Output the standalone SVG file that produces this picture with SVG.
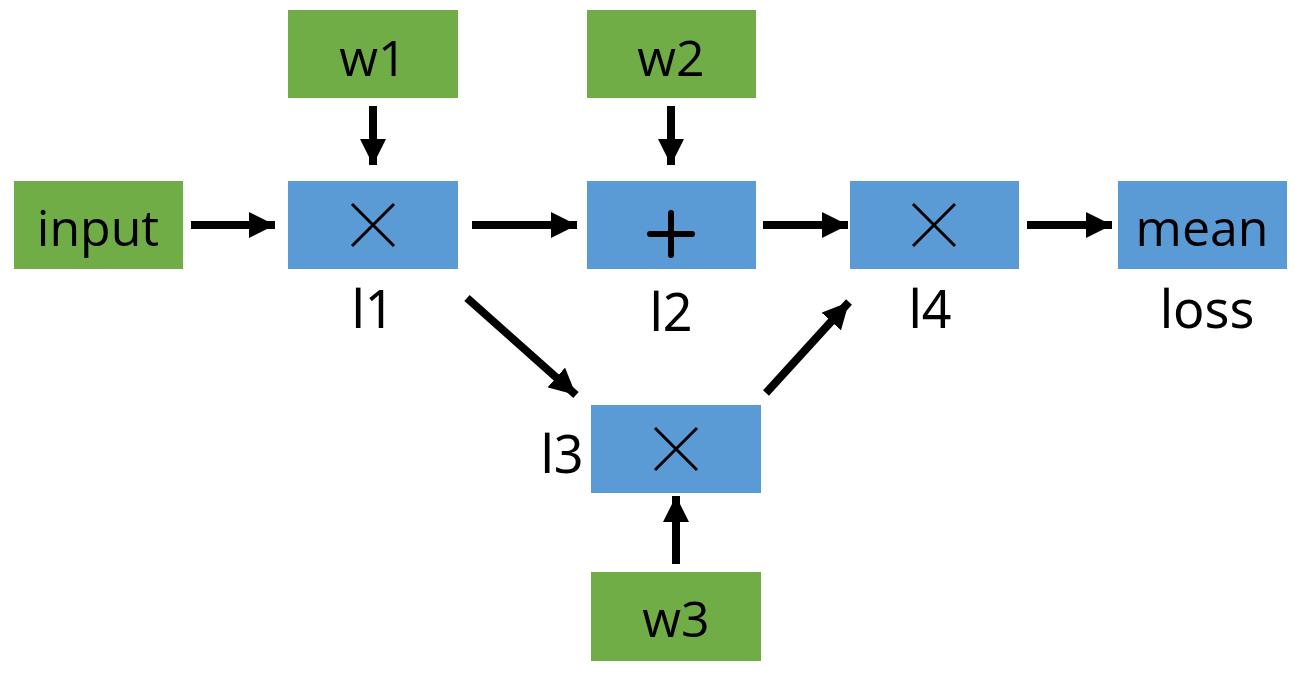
<svg xmlns="http://www.w3.org/2000/svg" width="1304" height="687" viewBox="0 0 1304 687">
<style>
.g{fill:#70AD47}
.b{fill:#5B9BD5}
.t{font-family:"Open Sans","Liberation Sans",sans-serif;font-size:50px;fill:#000;text-anchor:middle}
.lb{font-family:"Noto Sans","Liberation Sans",sans-serif;font-size:52px;fill:#000;text-anchor:middle}
.c{stroke:#000;stroke-width:8;fill:none;marker-end:url(#ah)}
</style>
<defs>
<marker id="ah" viewBox="0 0 10 10" refX="10" refY="5" markerWidth="3.3" markerHeight="3.3" orient="auto" markerUnits="strokeWidth">
<path d="M0,0 L10,5 L0,10 z" fill="#000"/>
</marker>
</defs>
<g id="input"><rect class="g" x="14" y="181" width="169" height="88"/><text class="t" x="98" y="246">input</text></g>
<g id="w1"><rect class="g" x="288" y="10" width="170" height="88"/><text class="t" x="373" y="76">w1</text></g>
<g id="w2"><rect class="g" x="587" y="10" width="169" height="88"/><text class="t" x="671" y="76">w2</text></g>
<g id="w3"><rect class="g" x="591" y="572" width="170" height="89"/><text class="t" x="676" y="637">w3</text></g>
<g id="l1"><rect class="b" x="288" y="181" width="170" height="88"/><path d="M352,204 L394,246 M394,204 L352,246" stroke="#000" stroke-width="3" fill="none"/><text class="lb" x="373" y="328">l1</text></g>
<g id="l2"><rect class="b" x="587" y="181" width="169" height="88"/><path d="M650,234 L692,234 M671,213 L671,255" stroke="#000" stroke-width="6" stroke-linecap="round" fill="none"/><text class="lb" x="671" y="331">l2</text></g>
<g id="l3"><rect class="b" x="591" y="405" width="170" height="88"/><path d="M655,428 L697,470 M697,428 L655,470" stroke="#000" stroke-width="3" fill="none"/><text class="lb" x="562" y="473">l3</text></g>
<g id="l4"><rect class="b" x="850" y="181" width="169" height="88"/><path d="M913,204 L955,246 M955,204 L913,246" stroke="#000" stroke-width="3" fill="none"/><text class="lb" x="930" y="328">l4</text></g>
<g id="mean"><rect class="b" x="1118" y="181" width="169" height="88"/><text class="t" x="1202" y="246">mean</text><text class="lb" x="1207" y="328">loss</text></g>
<g id="connectors">
<line class="c" x1="191" y1="225" x2="275" y2="225"/>
<line class="c" x1="373" y1="106" x2="373" y2="165"/>
<line class="c" x1="472" y1="225" x2="577" y2="225"/>
<line class="c" x1="671" y1="106" x2="671" y2="165"/>
<line class="c" x1="763" y1="225" x2="848" y2="225"/>
<line class="c" x1="1027" y1="225" x2="1112" y2="225"/>
<line class="c" x1="467" y1="298" x2="576" y2="395"/>
<line class="c" x1="766" y1="393" x2="849" y2="302"/>
<line class="c" x1="676" y1="564" x2="676" y2="496"/>
</g>
</svg>
